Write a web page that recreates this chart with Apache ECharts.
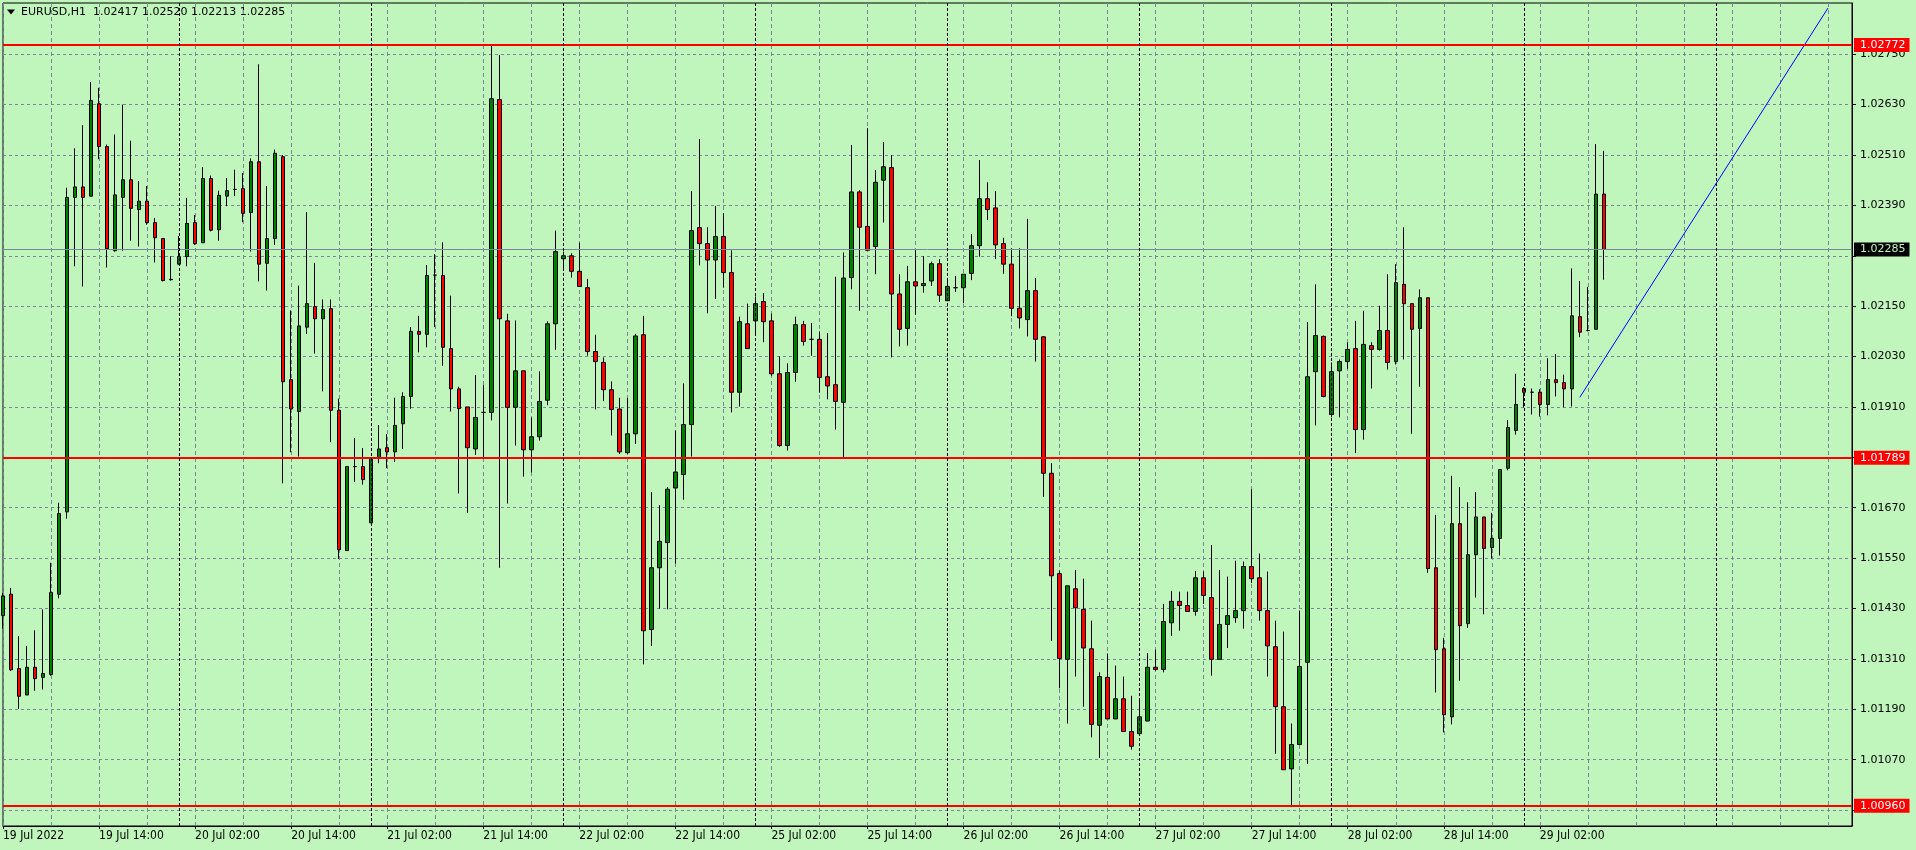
<!DOCTYPE html>
<html><head><meta charset="utf-8">
<script src="https://cdn.jsdelivr.net/npm/echarts@6/dist/echarts.min.js"></script>
<style>html,body{margin:0;padding:0;background:#c0f5bc;}#c{width:1916px;height:850px;}</style>
</head><body><div id="c"></div>
<script>
const symbolTitle = 'EURUSD,H1';
const opens = [
1.01413,1.01464,1.01287,1.01224,1.01290,1.01266,1.01273,1.01464,1.01660,1.02409,
1.02434,1.02412,1.02632,1.02530,1.02282,1.02409,1.02451,1.02380,1.02400,1.02349,
1.02311,1.02213,1.02250,1.02268,1.02349,1.02301,1.02454,1.02332,1.02412,1.02428,
1.02430,1.02373,1.02494,1.02252,1.02311,1.02506,1.01975,1.01899,1.02100,1.02149,
1.02120,1.02144,1.01902,1.01568,1.01768,1.01768,1.01634,1.01788,1.01813,1.01803,
1.01870,1.01935,1.02090,1.02083,1.02224,1.02223,1.02049,1.01953,1.01910,1.01810,
1.01897,1.01897,1.02642,1.02115,1.01909,1.01996,1.01808,1.01839,1.01926,1.02108,
1.02263,1.02270,1.02233,1.02194,1.02042,1.02016,1.01951,1.01905,1.01801,1.01846,
1.02082,1.01380,1.01527,1.01587,1.01717,1.01749,1.01868,1.02337,1.02299,1.02260,
1.02316,1.02230,1.01945,1.02108,1.02115,1.02161,1.02115,1.01989,1.01818,1.01992,
1.02106,1.02071,1.02071,1.01982,1.01963,1.01921,1.02218,1.02422,1.02340,1.02292,
1.02450,1.02480,1.02179,1.02097,1.02208,1.02199,1.02210,1.02251,1.02163,1.02194,
1.02194,1.02228,1.02294,1.02406,1.02384,1.02299,1.02250,1.02145,1.02118,1.02187,
1.02077,1.01752,1.01513,1.01309,1.01477,1.01428,1.01334,1.01152,1.01266,1.01167,
1.01215,1.01137,1.01132,1.01162,1.01290,1.01285,1.01396,1.01447,1.01437,1.01423,
1.01503,1.01456,1.01309,1.01392,1.01408,1.01425,1.01530,1.01503,1.01425,1.01339,
1.01196,1.01048,1.01106,1.01302,1.01994,1.02078,1.01892,1.01996,1.02018,1.02049,
1.01856,1.02056,1.02047,1.02092,1.02018,1.02202,1.02156,1.02097,1.02170,1.01527,
1.01334,1.01172,1.01632,1.01394,1.01558,1.01648,1.01575,1.01597,1.01764,1.01854,
1.01954,1.01945,1.01945,1.01916,1.01975,1.01968,1.01953,1.02125,1.02092,1.02095,
1.02417];
const highs = [
1.01467,1.01479,1.01364,1.01341,1.01378,1.01428,1.01539,1.01682,1.02432,1.02526,
1.02581,1.02684,1.02670,1.02535,1.02559,1.02630,1.02544,1.02448,1.02436,1.02360,
1.02311,1.02269,1.02317,1.02408,1.02367,1.02481,1.02461,1.02425,1.02455,1.02475,
1.02467,1.02502,1.02726,1.02436,1.02523,1.02510,1.02140,1.02199,1.02374,1.02253,
1.02166,1.02166,1.01930,1.01768,1.01836,1.01812,1.01788,1.01867,1.01845,1.01932,
1.01945,1.02100,1.02127,1.02248,1.02274,1.02302,1.02175,1.01958,1.01910,1.01986,
1.01962,1.02772,1.02748,1.02132,1.02116,1.01996,1.01885,1.01995,1.02114,1.02330,
1.02280,1.02276,1.02301,1.02215,1.02082,1.02028,1.01971,1.01932,1.01932,1.02084,
1.02127,1.01707,1.01676,1.01719,1.01854,1.01966,1.02424,1.02548,1.02338,1.02389,
1.02371,1.02283,1.02125,1.02156,1.02173,1.02181,1.02132,1.02030,1.02014,1.02125,
1.02115,1.02110,1.02090,1.02086,1.02220,1.02278,1.02534,1.02426,1.02574,1.02474,
1.02541,1.02510,1.02226,1.02246,1.02283,1.02269,1.02256,1.02262,1.02217,1.02222,
1.02226,1.02322,1.02498,1.02445,1.02424,1.02313,1.02288,1.02288,1.02358,1.02217,
1.02079,1.01776,1.01520,1.01484,1.01522,1.01501,1.01401,1.01278,1.01323,1.01294,
1.01268,1.01222,1.01215,1.01324,1.01332,1.01441,1.01472,1.01470,1.01470,1.01519,
1.01518,1.01581,1.01522,1.01506,1.01544,1.01542,1.01714,1.01561,1.01518,1.01401,
1.01375,1.01156,1.01425,1.02112,1.02202,1.02080,1.02016,1.02023,1.02064,1.02115,
1.02139,1.02064,1.02151,1.02226,1.02250,1.02338,1.02156,1.02190,1.02170,1.01653,
1.01360,1.01746,1.01719,1.01683,1.01707,1.01648,1.01658,1.01761,1.01879,1.01989,
1.01957,1.01954,1.01952,1.02026,1.02036,1.01987,1.02240,1.02210,1.02196,1.02536,
1.02520];
const lows = [
1.01382,1.01281,1.01191,1.01224,1.01234,1.01237,1.01270,1.01454,1.01644,1.02245,
1.02197,1.02412,1.02500,1.02242,1.02280,1.02282,1.02306,1.02292,1.02344,1.02254,
1.02209,1.02211,1.02250,1.02245,1.02296,1.02301,1.02328,1.02306,1.02388,1.02412,
1.02350,1.02280,1.02209,1.02187,1.02296,1.01728,1.01802,1.01792,1.02084,1.02037,
1.01947,1.01826,1.01548,1.01568,1.01731,1.01725,1.01634,1.01776,1.01764,1.01779,
1.01810,1.01906,1.02040,1.02052,1.02100,1.02008,1.01899,1.01704,1.01658,1.01796,
1.01788,1.01878,1.01527,1.01680,1.01818,1.01744,1.01754,1.01830,1.01914,1.02046,
1.02241,1.02218,1.02197,1.02032,1.01904,1.01924,1.01842,1.01798,1.01798,1.01822,
1.01297,1.01341,1.01430,1.01428,1.01537,1.01689,1.01792,1.02247,1.02133,1.02167,
1.02194,1.01897,1.01911,1.02049,1.02082,1.02064,1.01984,1.01815,1.01806,1.01970,
1.02056,1.02032,1.01944,1.01928,1.01856,1.01788,1.02190,1.02139,1.02283,1.02226,
1.02349,1.02028,1.02054,1.02056,1.02130,1.02182,1.02198,1.02160,1.02163,1.02184,
1.02157,1.02212,1.02268,1.02355,1.02262,1.02227,1.02126,1.02097,1.02078,1.02018,
1.01696,1.01353,1.01240,1.01156,1.01268,1.01196,1.01123,1.01074,1.01167,1.01167,
1.01137,1.01094,1.01130,1.01162,1.01282,1.01278,1.01365,1.01377,1.01423,1.01413,
1.01441,1.01270,1.01309,1.01336,1.01396,1.01382,1.01491,1.01401,1.01268,1.01084,
1.01046,1.00960,1.01106,1.01060,1.01866,1.01933,1.01885,1.01885,1.02001,1.01800,
1.01832,1.01954,1.02044,1.01999,1.02011,1.02023,1.01846,1.01958,1.01515,1.01230,
1.01135,1.01154,1.01258,1.01384,1.01456,1.01416,1.01549,1.01556,1.01759,1.01844,
1.01909,1.01892,1.01887,1.01890,1.01935,1.01909,1.01911,1.02076,1.02090,1.02095,
1.02213];
const closes = [
1.01460,1.01284,1.01221,1.01290,1.01263,1.01275,1.01468,1.01656,1.02409,1.02434,
1.02409,1.02640,1.02530,1.02287,1.02415,1.02451,1.02383,1.02400,1.02349,1.02313,
1.02211,1.02214,1.02268,1.02347,1.02299,1.02454,1.02331,1.02414,1.02425,1.02428,
1.02371,1.02494,1.02250,1.02311,1.02514,1.01970,1.01905,1.02103,1.02156,1.02120,
1.02142,1.01902,1.01570,1.01768,1.01768,1.01737,1.01788,1.01810,1.01803,1.01866,
1.01935,1.02090,1.02083,1.02223,1.02224,1.02052,1.01953,1.01906,1.01813,1.01885,
1.01897,1.02644,1.02120,1.01909,1.01996,1.01808,1.01839,1.01923,1.02108,1.02280,
1.02270,1.02233,1.02197,1.02042,1.02018,1.01951,1.01904,1.01803,1.01846,1.02079,
1.01377,1.01527,1.01590,1.01714,1.01755,1.01868,1.02330,1.02299,1.02260,1.02316,
1.02230,1.01945,1.02113,1.02049,1.02156,1.02113,1.01989,1.01818,1.01992,1.02106,
1.02066,1.02071,1.01980,1.01960,1.01923,1.02217,1.02422,1.02338,1.02283,1.02445,
1.02482,1.02179,1.02095,1.02208,1.02198,1.02204,1.02251,1.02176,1.02197,1.02194,
1.02226,1.02294,1.02406,1.02380,1.02296,1.02250,1.02145,1.02122,1.02187,1.02071,
1.01752,1.01508,1.01311,1.01484,1.01432,1.01336,1.01154,1.01268,1.01167,1.01215,
1.01137,1.01102,1.01172,1.01290,1.01285,1.01399,1.01447,1.01437,1.01423,1.01503,
1.01461,1.01309,1.01392,1.01413,1.01425,1.01530,1.01501,1.01425,1.01341,1.01196,
1.01046,1.01106,1.01292,1.01982,1.02080,1.01935,1.01994,1.02018,1.02047,1.01856,
1.02059,1.02047,1.02092,1.02016,1.02206,1.02156,1.02095,1.02170,1.01525,1.01332,
1.01177,1.01632,1.01389,1.01558,1.01648,1.01573,1.01597,1.01761,1.01861,1.01916,
1.01945,1.01945,1.01916,1.01975,1.01968,1.01953,1.02127,1.02088,1.02092,1.02417,
1.02285];
const slotCount = 232;
const xTickLabels = ['19 Jul 2022','19 Jul 14:00','20 Jul 02:00','20 Jul 14:00','21 Jul 02:00','21 Jul 14:00',
  '22 Jul 02:00','22 Jul 14:00','25 Jul 02:00','25 Jul 14:00','26 Jul 02:00','26 Jul 14:00',
  '27 Jul 02:00','27 Jul 14:00','28 Jul 02:00','28 Jul 14:00','29 Jul 02:00'];
const daySeparatorIdx = [22,46,70,94,118,142,166,190,214];
const yGridValues = [1.00950,1.01070,1.01190,1.01310,1.01430,1.01550,1.01670,1.01790,1.01910,1.02030,1.02150,1.02270,1.02390,1.02510,1.02630,1.02750];
const yLabelValues = [1.01070,1.01190,1.01310,1.01430,1.01550,1.01670,1.01910,1.02030,1.02150,1.02390,1.02510,1.02630,1.02750];
const yMin = 1.00912, yMax = 1.02872;
const redLevels = [1.02772, 1.01789, 1.00960];
const trendLine = [[197, 1.01933], [228, 1.02860]];

const BG = '#c0f5bc';
const categories = Array.from({length: slotCount}, (_, i) => String(i));
const candleData = opens.map((o, i) => [o, closes[i], lows[i], highs[i]]);
const last = opens.length - 1;
const bidPrice = closes[last];
const headerText = symbolTitle + '  ' + [opens[last], highs[last], lows[last], closes[last]].map(v => v.toFixed(5)).join(' ');

const chart = echarts.init(document.getElementById('c'), null, {renderer: 'canvas'});
const levelLabel = {
  show: true, position: 'end', distance: 2,
  formatter: p => Number(p.value).toFixed(5),
  backgroundColor: '#ff0000', color: '#ffffff',
  padding: [1, 4, 1, 6], fontFamily: 'DejaVu Sans', fontSize: 11, lineHeight: 12
};
chart.setOption({
  animation: false,
  backgroundColor: BG,
  grid: {left: 2, right: 64, top: 3, bottom: 24, show: true, borderColor: '#000', borderWidth: 1, backgroundColor: 'transparent'},
  xAxis: {
    type: 'category', data: categories, boundaryGap: false,
    axisLine: {show: true, lineStyle: {color: '#000', width: 1}},
    axisTick: {show: true, length: 3, interval: (i) => i % 12 === 0 && i / 12 < xTickLabels.length, lineStyle: {color: '#000'}},
    axisLabel: {
      interval: (i) => i % 12 === 0, align: 'left', margin: 4,
      formatter: (v, i) => (i % 12 === 0 && xTickLabels[i / 12]) ? xTickLabels[i / 12] : '',
      fontFamily: 'DejaVu Sans Condensed', fontSize: 12, color: '#000'
    },
    splitLine: {show: true, interval: (i) => i % 6 === 0, lineStyle: {color: '#778899', width: 1, type: [4, 3]}}
  },
  yAxis: {
    type: 'value', position: 'right', min: yMin, max: yMax,
    axisLine: {show: true, lineStyle: {color: '#000'}},
    axisTick: {show: true, length: 4, customValues: yGridValues, lineStyle: {color: '#000'}},
    axisLabel: {customValues: yLabelValues, formatter: v => Number(v).toFixed(5), margin: 8,
      fontFamily: 'DejaVu Sans', fontSize: 11, color: '#000'},
    splitLine: {show: true, lineStyle: {color: '#778899', width: 1, type: [3, 3]}}
  },
  series: [
    {
      type: 'candlestick', data: candleData, barWidth: 4, silent: true,
      itemStyle: {color: '#008000', color0: '#ff0000', borderColor: '#000', borderColor0: '#000', borderWidth: 1},
      markLine: {
        silent: true, symbol: 'none', animation: false, precision: 5,
        label: levelLabel,
        data: [
          {yAxis: bidPrice, lineStyle: {color: '#778899', width: 1, type: 'solid'},
           label: Object.assign({}, levelLabel, {backgroundColor: '#000000', color: BG})}
        ].concat(redLevels.map(v => ({yAxis: v, lineStyle: {color: '#ff0000', width: 2, type: 'solid'}})))
      }
    },
    {
      type: 'line', data: trendLine, symbol: 'none', silent: true, z: 4,
      lineStyle: {color: '#0000ff', width: 1},
      markLine: {
        silent: true, symbol: 'none', animation: false, label: {show: false},
        lineStyle: {color: '#000', width: 1, type: [3, 2]},
        data: daySeparatorIdx.map(i => ({xAxis: i}))
      }
    }
  ],
  graphic: [
    {type: 'polygon', shape: {points: [[7, 9.5], [15, 9.5], [11, 14.5]]}, style: {fill: '#000'}},
    {type: 'text', style: {text: headerText, x: 21, y: 12, verticalAlign: 'middle', fill: '#000', font: '11px "DejaVu Sans"'}}
  ]
});
</script></body></html>
